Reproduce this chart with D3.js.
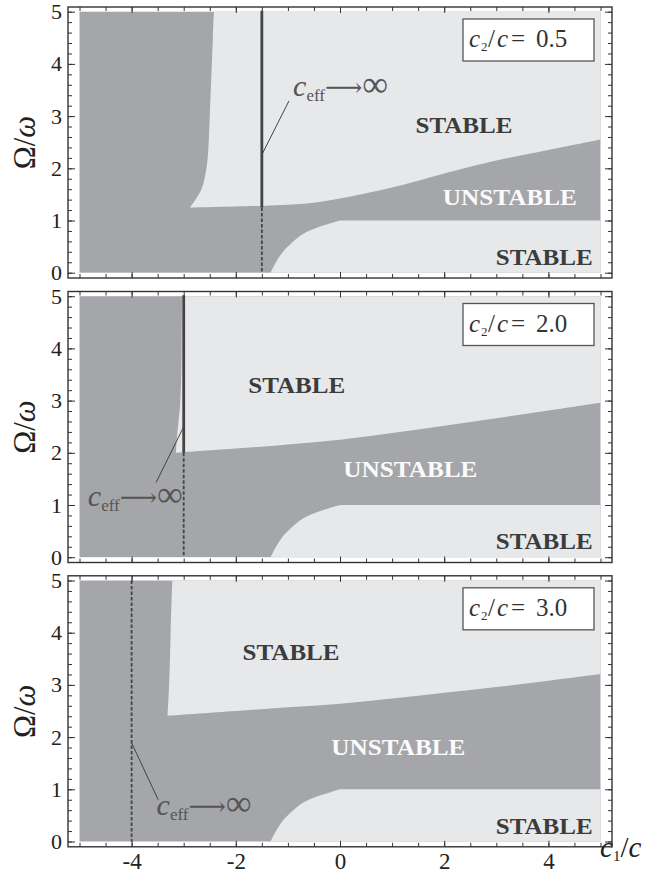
<!DOCTYPE html>
<html><head><meta charset="utf-8">
<script src="https://cdn.jsdelivr.net/npm/d3@7"></script>
<style>body{margin:0;background:#fff}text{font-family:"Liberation Serif","DejaVu Serif",serif}</style>
</head><body><svg id="c" width="665" height="877" xmlns="http://www.w3.org/2000/svg"></svg>
<script>
// ---------- data ----------
const xTickValues = [-4, -2, 0, 2, 4];
const yTickValues = [0, 1, 2, 3, 4, 5];
const ratioLabels = ["0.5", "2.0", "3.0"];
// lower stable region boundary (same in all panels)
const lowerStableEdge = [[-1.33,0],[-1.24,0.18],[-1.12,0.37],[-0.94,0.56],[-0.71,0.74],[-0.42,0.87],[-0.17,0.95],[0,1]];
const lowerStableFlat = [[0,1],[5,1]];
// upper stable region: left edge (top -> cusp) and bottom edge (cusp -> right)
const upperLeft1 = [[-2.42,5],[-2.44,4.5],[-2.46,4],[-2.48,3.5],[-2.5,3],[-2.52,2.5],[-2.55,2.1],[-2.6,1.8],[-2.66,1.6],[-2.76,1.42],[-2.88,1.25]];
const upperBottom1 = [[-2.88,1.25],[-2,1.27],[-1.5,1.28],[-1,1.3],[-0.5,1.34],[0,1.42],[0.5,1.52],[1,1.63],[1.5,1.76],[2,1.9],[3,2.15],[4,2.35],[5,2.55]];
const upperLeft2 = [[-3.03,5],[-3.04,4],[-3.05,3.4],[-3.07,2.9],[-3.1,2.6],[-3.13,2.3],[-3.15,2.0]];
const upperBottom2 = [[-3.15,2.0],[-3,2.01],[-2,2.08],[-1,2.16],[0,2.25],[1,2.38],[2,2.52],[3,2.66],[4,2.81],[5,2.96]];
const upperLeft3 = [[-3.22,5],[-3.25,4],[-3.28,3],[-3.31,2.41]];
const upperBottom3 = [[-3.31,2.41],[-2,2.5],[-1,2.57],[0,2.64],[1,2.74],[2,2.85],[3,2.96],[4,3.08],[5,3.21]];
const upperLeftEdges = [upperLeft1, upperLeft2, upperLeft3];
const upperBottomEdges = [upperBottom1, upperBottom2, upperBottom3];
// c_eff -> infinity line position and the Omega where it turns from dashed to solid
const divergenceX = [-1.5, -3.0, -4.0];
const divergenceSolidFrom = [1.25, 2.0, 5];

// ---------- annotation placement (data coordinates) ----------
const annoText = [[-0.9,3.39],[-4.84,0.98],[-3.52,0.51]];
const annoLeader = [[[-1.5,2.26],[-0.98,3.29]],[[-3.01,2.48],[-3.53,1.43]],[[-4.0,1.89],[-3.49,0.8]]];
const stableUpperPos = [[2.38,2.68],[-0.83,3.14],[-0.94,3.48]];
const unstablePos = [[3.26,1.30],[1.35,1.53],[1.12,1.66]];
const stableLowerPos = [[3.92,0.15],[3.92,0.15],[3.92,0.14]];

// ---------- layout ----------
const svg = d3.select("#c");
const frameL = 68, frameR = 612, frameH = 271;
const panelTops = [7, 291.5, 575.8];
const DARK = "#a5a6a9", LIGHT = "#e7e8ea", INK = "#333";
const x = d3.scaleLinear().domain([-5,5]).range([79.5,600.5]);

panelTops.forEach((top, i) => {
  const y = d3.scaleLinear().domain([0,5]).range([top+265.7, top+4.7]);
  const g = svg.append("g");
  const line = d3.line().x(d=>x(d[0])).y(d=>y(d[1]));
  const lineCR = d3.line().x(d=>x(d[0])).y(d=>y(d[1])).curve(d3.curveCatmullRom.alpha(0.5));

  // background (unstable)
  g.append("rect").attr("x", x(-5)).attr("y", y(5)).attr("width", x(5)-x(-5)).attr("height", y(0)-y(5)).attr("fill", DARK);

  // upper stable region
  const lp = lineCR(upperLeftEdges[i]);
  const bp = lineCR(upperBottomEdges[i]).replace(/^M/, "L");
  g.append("path").attr("d", lp + bp + `L${x(5)},${y(5)}Z`).attr("fill", LIGHT);

  // lower stable region
  const lo = lineCR(lowerStableEdge) + line(lowerStableFlat).replace(/^M/, "L") + `L${x(5)},${y(0)}Z`;
  g.append("path").attr("d", lo).attr("fill", LIGHT);

  // divergence line
  const dx = x(divergenceX[i]);
  g.append("line").attr("x1", dx).attr("x2", dx).attr("y1", y(divergenceSolidFrom[i])).attr("y2", y(0))
    .attr("stroke", "#444").attr("stroke-width", 1.8).attr("stroke-dasharray", "3.5,2");
  if (divergenceSolidFrom[i] < 5) {
    g.append("line").attr("x1", dx).attr("x2", dx).attr("y1", y(5)-1).attr("y2", y(divergenceSolidFrom[i]))
      .attr("stroke", "#444").attr("stroke-width", 2.8);
  }

  // region labels
  g.append("text").attr("x", x(stableUpperPos[i][0])).attr("y", y(stableUpperPos[i][1]))
    .attr("text-anchor","middle").attr("font-weight","bold").attr("font-size",23).attr("fill","#3c3c3c")
    .attr("textLength",97).attr("lengthAdjust","spacingAndGlyphs").text("STABLE");
  g.append("text").attr("x", x(unstablePos[i][0])).attr("y", y(unstablePos[i][1]))
    .attr("text-anchor","middle").attr("font-weight","bold").attr("font-size",23).attr("fill","#fbfbfb")
    .attr("textLength",134).attr("lengthAdjust","spacingAndGlyphs").text("UNSTABLE");
  g.append("text").attr("x", x(stableLowerPos[i][0])).attr("y", y(stableLowerPos[i][1]))
    .attr("text-anchor","middle").attr("font-weight","bold").attr("font-size",23).attr("fill","#3c3c3c")
    .attr("textLength",97).attr("lengthAdjust","spacingAndGlyphs").text("STABLE");

  // c_eff -> infinity annotation
  const L = annoLeader[i];
  g.append("line").attr("x1", x(L[0][0])).attr("y1", y(L[0][1])).attr("x2", x(L[1][0])).attr("y2", y(L[1][1]))
    .attr("stroke","#444").attr("stroke-width",1);
  const at = g.append("text").attr("x", x(annoText[i][0])).attr("y", y(annoText[i][1])).attr("fill","#555");
  at.append("tspan").attr("font-style","italic").attr("font-size",30).text("c");
  at.append("tspan").attr("font-size",17).attr("dy",5).text("eff");
  at.append("tspan").attr("font-size",26).attr("dy",-5).text("⟶");
  at.append("tspan").attr("font-size",36).text("∞");

  // legend box
  g.append("rect").attr("x",463).attr("y",top+12).attr("width",131).attr("height",42)
    .attr("fill","#fff").attr("stroke","#555").attr("stroke-width",1.3);
  const lt = g.append("text").attr("y", top+40).attr("font-size",25).attr("fill","#333");
  lt.append("tspan").attr("x",469).attr("font-style","italic").text("c");
  lt.append("tspan").attr("x",481).attr("dy",4).attr("font-size",13).text("2");
  lt.append("tspan").attr("x",488).attr("dy",-4).text("/");
  lt.append("tspan").attr("x",497).attr("font-style","italic").text("c");
  lt.append("tspan").attr("x",511).text("=");
  lt.append("tspan").attr("x",536).text(ratioLabels[i]);

  // frame and ticks
  const fb = top + frameH;
  g.append("rect").attr("x",frameL).attr("y",top).attr("width",frameR-frameL).attr("height",frameH)
    .attr("fill","none").attr("stroke",INK).attr("stroke-width",1.4);

  const yMinor = d3.range(0, 5.001, 0.2);
  const xMinor = d3.range(-5, 5.001, 0.5);
  const styleAxis = a => { a.select(".domain").remove(); a.selectAll(".tick line").attr("stroke",INK).attr("stroke-width",1); };

  // left
  g.append("g").attr("transform",`translate(${frameL},0)`).call(d3.axisLeft(y).tickValues(yMinor).tickSize(-4).tickFormat("")).call(styleAxis);
  const la = g.append("g").attr("transform",`translate(${frameL},0)`)
    .call(d3.axisLeft(y).tickValues(yTickValues).tickSize(-7).tickPadding(6).tickFormat(d=>String(d))).call(styleAxis);
  la.selectAll("text").attr("font-size",22).attr("fill","#222").attr("font-family","Liberation Serif, serif");
  // right
  g.append("g").attr("transform",`translate(${frameR},0)`).call(d3.axisRight(y).tickValues(yMinor).tickSize(-4).tickFormat("")).call(styleAxis);
  g.append("g").attr("transform",`translate(${frameR},0)`).call(d3.axisRight(y).tickValues(yTickValues).tickSize(-7).tickFormat("")).call(styleAxis);
  // top
  g.append("g").attr("transform",`translate(0,${top})`).call(d3.axisTop(x).tickValues(xMinor).tickSize(-4).tickFormat("")).call(styleAxis);
  g.append("g").attr("transform",`translate(0,${top})`).call(d3.axisTop(x).tickValues(xTickValues).tickSize(-6).tickFormat("")).call(styleAxis);
  // bottom
  g.append("g").attr("transform",`translate(0,${fb})`).call(d3.axisBottom(x).tickValues(xMinor).tickSize(-4).tickFormat("")).call(styleAxis);
  const ba = g.append("g").attr("transform",`translate(0,${fb})`)
    .call(d3.axisBottom(x).tickValues(xTickValues).tickSize(-6).tickPadding(6).tickFormat(i===2 ? (d=>String(d)) : "")).call(styleAxis);
  ba.selectAll("text").attr("font-size",23).attr("fill","#222").attr("font-family","Liberation Serif, serif");

  // y-axis title
  const yt = g.append("text").attr("transform",`translate(35,${top+frameH/2}) rotate(-90)`)
    .attr("text-anchor","middle").attr("font-size",31).attr("fill","#222");
  yt.append("tspan").text("Ω/");
  yt.append("tspan").attr("font-style","italic").text("ω");
});

// x-axis title
const xt = svg.append("text").attr("x",600).attr("y",857).attr("font-size",29).attr("fill","#222");
xt.append("tspan").attr("font-style","italic").text("c");
xt.append("tspan").attr("font-size",15).attr("dy",4).text("1");
xt.append("tspan").attr("dy",-4).text("/");
xt.append("tspan").attr("font-style","italic").text("c");
</script></body></html>
